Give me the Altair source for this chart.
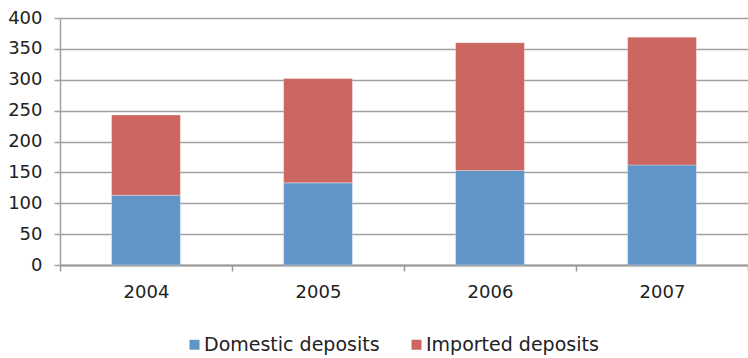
import altair as alt
import pandas as pd

years = ["2004", "2005", "2006", "2007"]
domestic = [113, 133, 153, 162]
imported = [130, 169, 207, 207]
series = ["Domestic deposits", "Imported deposits"]
colors = ["#6195C8", "#CC6660"]
y_ticks = [0, 50, 100, 150, 200, 250, 300, 350, 400]

rows = []
for i, yr in enumerate(years):
    rows.append({"year": yr, "series": series[0], "value": domestic[i], "order": 0})
    rows.append({"year": yr, "series": series[1], "value": imported[i], "order": 1})
df = pd.DataFrame(rows)

FONT = "DejaVu Sans"

bars = alt.Chart(df).mark_bar(
    width=alt.RelativeBandSize(0.4), stroke="white", strokeWidth=0.5, strokeOpacity=0.6
).encode(
    x=alt.X(
        "year:N",
        sort=years,
        title=None,
        scale=alt.Scale(paddingInner=0, paddingOuter=0),
        axis=alt.Axis(
            labelAngle=0,
            labelFontSize=18,
            labelColor="#222222",
            labelFont=FONT,
            labelPadding=12,
            domainColor="#999999",
            domainWidth=2,
            tickColor="#999999",
            tickWidth=1.5,
            tickSize=6,
            tickBand="extent",
            grid=False,
        ),
    ),
    y=alt.Y(
        "value:Q",
        stack="zero",
        title=None,
        scale=alt.Scale(domain=[0, 400], nice=False),
        axis=alt.Axis(
            values=y_ticks,
            labelFontSize=18,
            labelColor="#222222",
            labelFont=FONT,
            labelPadding=12,
            domainColor="#a0a0a0",
            domainWidth=1.5,
            tickColor="#a0a0a0",
            tickWidth=1.5,
            tickSize=6,
            gridColor="#a0a0a0",
            gridWidth=1.5,
        ),
    ),
    color=alt.Color(
        "series:N",
        sort=series,
        scale=alt.Scale(domain=series, range=colors),
        legend=alt.Legend(
            title=None,
            orient="none",
            direction="horizontal",
            legendX=125,
            legendY=317,
            padding=0,
            symbolType="square",
            symbolSize=100,
            symbolStrokeWidth=0,
            labelFontSize=19,
            labelFont=FONT,
            labelColor="#222222",
            labelOffset=0,
            labelLimit=400,
            columnPadding=27,
        ),
    ),
    order=alt.Order("order:Q"),
)

chart = bars.properties(
    width=688,
    height=247,
    padding={"left": 60, "top": 18, "right": 0, "bottom": 93},
    autosize=alt.AutoSizeParams(type="none"),
).configure_view(stroke=None)

chart.save("out.html", embed_options={"renderer": "svg", "actions": False})
